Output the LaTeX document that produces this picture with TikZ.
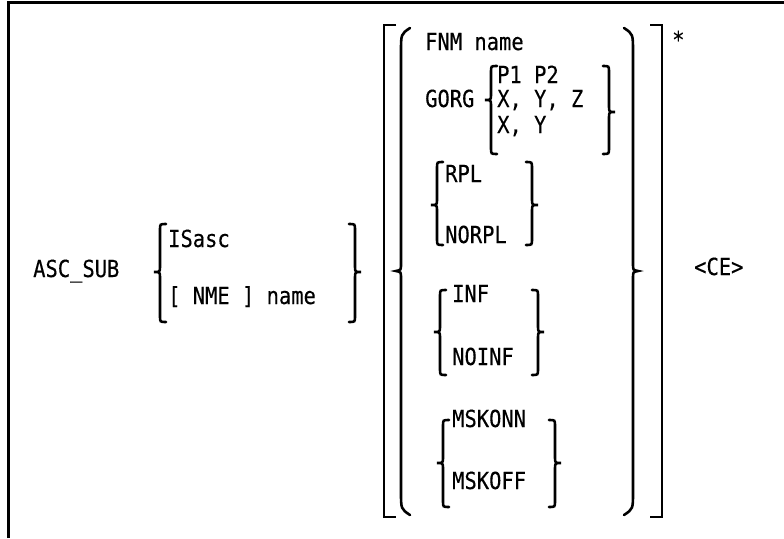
\documentclass[tikz,border=0pt]{standalone}
\usepackage{fontspec}
\usepackage{tikz}
\newfontfamily\gothicmono[FakeStretch=0.87, FakeBold=0.3]{DejaVu Sans Mono}

% curly braces: line x, top, tip, bottom
\newcommand{\braceL}[4]{%
  \draw[brc] (#1+6,#2) .. controls (#1,#2) .. (#1,#2+6) -- (#1,#3-6)
    .. controls (#1,#3) .. (#1-6,#3) .. controls (#1,#3) .. (#1,#3+6)
    -- (#1,#4-6) .. controls (#1,#4) .. (#1+6,#4);}
\newcommand{\braceR}[4]{%
  \draw[brc] (#1-6,#2) .. controls (#1,#2) .. (#1,#2+6) -- (#1,#3-6)
    .. controls (#1,#3) .. (#1+6,#3) .. controls (#1,#3) .. (#1,#3+6)
    -- (#1,#4-6) .. controls (#1,#4) .. (#1-6,#4);}

\begin{document}
\begin{tikzpicture}[x=1pt, y=-1pt,
    every node/.style={anchor=base west, inner sep=0pt, font=\gothicmono\fontsize{23.5}{28}\selectfont},
    brc/.style={line width=2.6pt, line cap=round},
    brk/.style={line width=2.4pt}]
    \useasboundingbox (0,0) rectangle (784,538);
    \draw[line width=3pt] (8,538) -- (8,2) -- (784,2);

    \node (cmd) at (33,277) {ASC\_SUB};
    \node (isasc) at (168,247) {ISasc};
    \node (nme) at (168,304) {[ NME ] name};
    \braceL{160}{224}{272}{322}
    \braceR{355}{224}{272}{322}

    % outer brackets and parens
    \draw[brk] (396,25) -- (384,25) -- (384,517) -- (396,517);
    \draw[brk] (650,25) -- (662,25) -- (662,517) -- (650,517);
    \draw[brc] (410,28) .. controls (401,34) .. (401,52) -- (401,264)
        .. controls (401,270) .. (396,271) .. controls (401,272) .. (401,278)
        -- (401,492) .. controls (401,509) .. (410,515);
    \draw[brc] (624,28) .. controls (633,34) .. (633,52) -- (633,264)
        .. controls (633,270) .. (638,271) .. controls (633,272) .. (633,278)
        -- (633,492) .. controls (633,509) .. (624,515);
    \node (star) at (672,48) {*};
    \node (ce) at (694,275) {<CE>};

    \node (fnm) at (425,50) {FNM name};
    \node (gorg) at (425,107) {GORG};
    \node (p1p2) at (497,83) {P1 P2};
    \node (xyz) at (497,107) {X, Y, Z};
    \node (xy) at (497,133) {X, Y};
    \braceL{491}{66}{100}{154}
    \braceR{609}{66}{112}{154}

    \node (rpl) at (445,182) {RPL};
    \node (norpl) at (445,243) {NORPL};
    \braceL{437}{162}{205}{245}
    \braceR{532}{162}{205}{245}

    \node (inf) at (452,302) {INF};
    \node (noinf) at (452,365) {NOINF};
    \braceL{440}{290}{332}{375}
    \braceR{538}{290}{332}{375}

    \node (mskonn) at (452,427) {MSKONN};
    \node (mskoff) at (452,489) {MSKOFF};
    \braceL{443}{420}{463}{507}
    \braceR{555}{420}{463}{507}
\end{tikzpicture}
\end{document}
